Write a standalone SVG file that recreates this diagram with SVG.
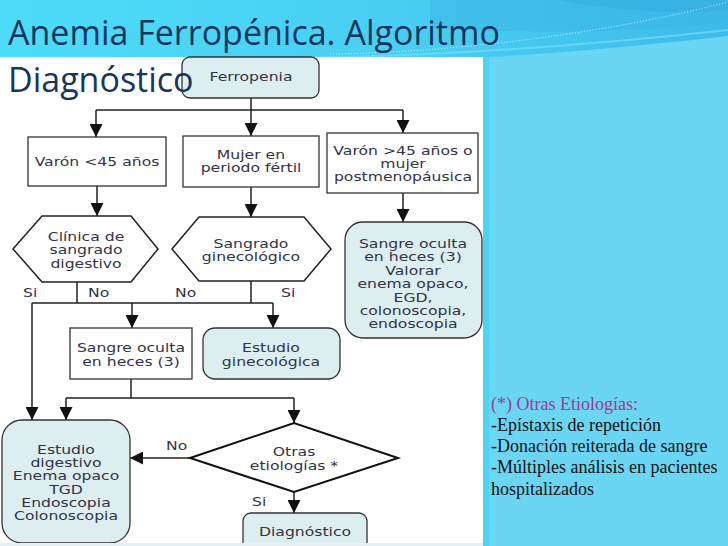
<svg xmlns="http://www.w3.org/2000/svg" width="728" height="546" viewBox="0 0 728 546">
<defs>
<linearGradient id="topg" x1="0" y1="0" x2="1" y2="0">
<stop offset="0" stop-color="#4CDCF8"/>
<stop offset="0.6" stop-color="#48CDF2"/>
<stop offset="1" stop-color="#3DBBE9"/>
</linearGradient>
<marker id="ah" viewBox="0 0 13 13" refX="13" refY="6.5" markerWidth="13" markerHeight="13" markerUnits="userSpaceOnUse" orient="auto">
<path d="M0,0 L13,6.5 L0,13 Z" fill="#111"/>
</marker>
<style>
.ln{fill:none;stroke:#222;stroke-width:1.5}
.ar{fill:none;stroke:#222;stroke-width:1.5;marker-end:url(#ah)}
.box{fill:#fff;stroke:#333;stroke-width:1.3}
.rbox{fill:#DCEEF0;stroke:#333;stroke-width:1.3}
.hex{fill:#fff;stroke:#222;stroke-width:1.5}
.dia{fill:#fff;stroke:#111;stroke-width:2}
.t{font-family:"DejaVu Sans",Verdana,sans-serif;font-size:11.5px;fill:#333345;text-anchor:middle}
.lb{font-family:"DejaVu Sans",Verdana,sans-serif;font-size:11.5px;fill:#333345}
.title{font-family:"Open Sans","Noto Sans",sans-serif;font-size:34px;fill:#17365D}
.note{font-family:"Liberation Serif","Times New Roman",serif;font-size:18px;fill:#111}
</style>
</defs>

<!-- background -->
<rect x="0" y="0" width="728" height="546" fill="#6AD6F4"/>
<path d="M0,0 H728 V36 C640,46 520,58 380,62 C250,66 120,64 0,60 Z" fill="url(#topg)"/>
<path d="M430,0 H728 V22 C660,30 560,36 430,28 Z" fill="#3AB6E6" opacity="0.55"/>
<path d="M560,0 H728 V10 C680,14 620,12 560,0 Z" fill="#34A9DD" opacity="0.5"/>
<path d="M330,54 C470,52 620,30 728,2" fill="none" stroke="#ffffff" stroke-width="1" stroke-dasharray="1 2" opacity="0.7"/>
<path d="M300,58 C450,56 600,44 728,30" fill="none" stroke="#7FE0F8" stroke-width="2" opacity="0.6"/>

<!-- white panel -->
<rect x="0" y="57" width="483" height="486" fill="#ffffff"/>
<rect x="483" y="57" width="6" height="489" fill="#4CD3F6"/>

<!-- connectors -->
<g id="connectors">
<path class="ln" d="M251,98 V110 M96,110 H403"/>
<path class="ar" d="M96,110 V137"/>
<path class="ar" d="M251,110 V136"/>
<path class="ar" d="M403,110 V133"/>
<path class="ar" d="M97,186 V216"/>
<path class="ar" d="M251,187 V217"/>
<path class="ar" d="M403,193 V222"/>
<path class="ln" d="M77,282 V303 M251,281 V303 M32,303 H273"/>
<path class="ar" d="M32,303 V420"/>
<path class="ar" d="M132,303 V328"/>
<path class="ar" d="M273,303 V328"/>
<path class="ln" d="M131,379 V398 M66,398 H294"/>
<path class="ar" d="M66,398 V420"/>
<path class="ar" d="M294,398 V423"/>
<path class="ar" d="M190,458 H130"/>
<path class="ar" d="M294,492 V513"/>
<text class="lb" transform="translate(23,297) scale(1.36,1)">Si</text>
<text class="lb" transform="translate(88,297) scale(1.36,1)">No</text>
<text class="lb" transform="translate(175,297) scale(1.36,1)">No</text>
<text class="lb" transform="translate(281,297) scale(1.36,1)">Si</text>
<text class="lb" transform="translate(166,450) scale(1.36,1)">No</text>
<text class="lb" transform="translate(252,506) scale(1.36,1)">Si</text>
</g>

<!-- nodes -->
<g id="ferropenia">
<rect class="rbox" x="182" y="57" width="137" height="41" rx="8"/>
<text class="t" transform="translate(251,81) scale(1.36,1)">Ferropenia</text>
</g>

<g id="varon45">
<rect class="box" x="28" y="137" width="138" height="49"/>
<text class="t" transform="translate(97,166) scale(1.36,1)">Varón &lt;45 años</text>
</g>

<g id="mujer">
<rect class="box" x="183" y="136" width="136" height="51"/>
<text class="t" transform="translate(251,159) scale(1.36,1)"><tspan x="0">Mujer en</tspan><tspan x="0" dy="13.5">periodo fértil</tspan></text>
</g>

<g id="varonmas45">
<rect class="box" x="327" y="133" width="151" height="60"/>
<text class="t" transform="translate(403,155) scale(1.36,1)"><tspan x="0">Varón &gt;45 años o</tspan><tspan x="0" dy="13">mujer</tspan><tspan x="0" dy="13">postmenopáusica</tspan></text>
</g>

<g id="clinica">
<polygon class="hex" points="13,249 42,216 131,216 158,249 131,282 42,282"/>
<text class="t" transform="translate(86,241) scale(1.36,1)"><tspan x="0">Clínica de</tspan><tspan x="0" dy="13.5">sangrado</tspan><tspan x="0" dy="13.5">digestivo</tspan></text>
</g>

<g id="ginecologico">
<polygon class="hex" points="172,249 199,217 304,217 331,249 304,281 199,281"/>
<text class="t" transform="translate(251,248) scale(1.36,1)"><tspan x="0">Sangrado</tspan><tspan x="0" dy="13.5">ginecológico</tspan></text>
</g>

<g id="sangre-valorar">
<rect class="rbox" x="345" y="222" width="137" height="116" rx="18"/>
<text class="t" transform="translate(413,248) scale(1.36,1)"><tspan x="0">Sangre oculta</tspan><tspan x="0" dy="13.4">en heces (3)</tspan><tspan x="0" dy="13.4">Valorar</tspan><tspan x="0" dy="13.4">enema opaco,</tspan><tspan x="0" dy="13.4">EGD,</tspan><tspan x="0" dy="13.4">colonoscopia,</tspan><tspan x="0" dy="13.4">endoscopia</tspan></text>
</g>

<g id="sangre-oculta">
<rect class="box" x="70" y="328" width="122" height="51"/>
<text class="t" transform="translate(131,352) scale(1.36,1)"><tspan x="0">Sangre oculta</tspan><tspan x="0" dy="14.5">en heces (3)</tspan></text>
</g>

<g id="estudio-gine">
<rect class="rbox" x="203" y="328" width="137" height="51" rx="12"/>
<text class="t" transform="translate(271,352) scale(1.36,1)"><tspan x="0">Estudio</tspan><tspan x="0" dy="14">ginecológica</tspan></text>
</g>

<g id="estudio-digestivo">
<rect class="rbox" x="2" y="420" width="128" height="123" rx="20"/>
<text class="t" transform="translate(66,454) scale(1.36,1)"><tspan x="0">Estudio</tspan><tspan x="0" dy="13.2">digestivo</tspan><tspan x="0" dy="13.2">Enema opaco</tspan><tspan x="0" dy="13.2">TGD</tspan><tspan x="0" dy="13.2">Endoscopia</tspan><tspan x="0" dy="13.2">Colonoscopia</tspan></text>
</g>

<g id="otras">
<polygon class="dia" points="190,458 294,423 398,458 294,492"/>
<text class="t" transform="translate(294,456) scale(1.36,1)"><tspan x="0">Otras</tspan><tspan x="0" dy="14">etiologías *</tspan></text>
</g>

<g id="diagnostico">
<rect class="rbox" x="243" y="513" width="124" height="40" rx="8"/>
<text class="t" transform="translate(305,536) scale(1.36,1)">Diagnóstico</text>
</g>

<rect x="0" y="543" width="483" height="3" fill="#E6EFF1"/>

<!-- title (drawn over the flowchart, as in the slide) -->
<text class="title" x="8" y="45">Anemia Ferropénica. Algoritmo</text>
<text class="title" x="8" y="92">Diagnóstico</text>

<!-- note -->
<g id="note">
<text class="note" x="491" y="410" style="fill:#A0398F">(*) Otras Etiologías:</text>
<text class="note" x="491" y="431">-Epístaxis de repetición</text>
<text class="note" x="491" y="452">-Donación reiterada de sangre</text>
<text class="note" x="491" y="473">-Múltiples análisis en pacientes</text>
<text class="note" x="491" y="495">hospitalizados</text>
</g>
</svg>
